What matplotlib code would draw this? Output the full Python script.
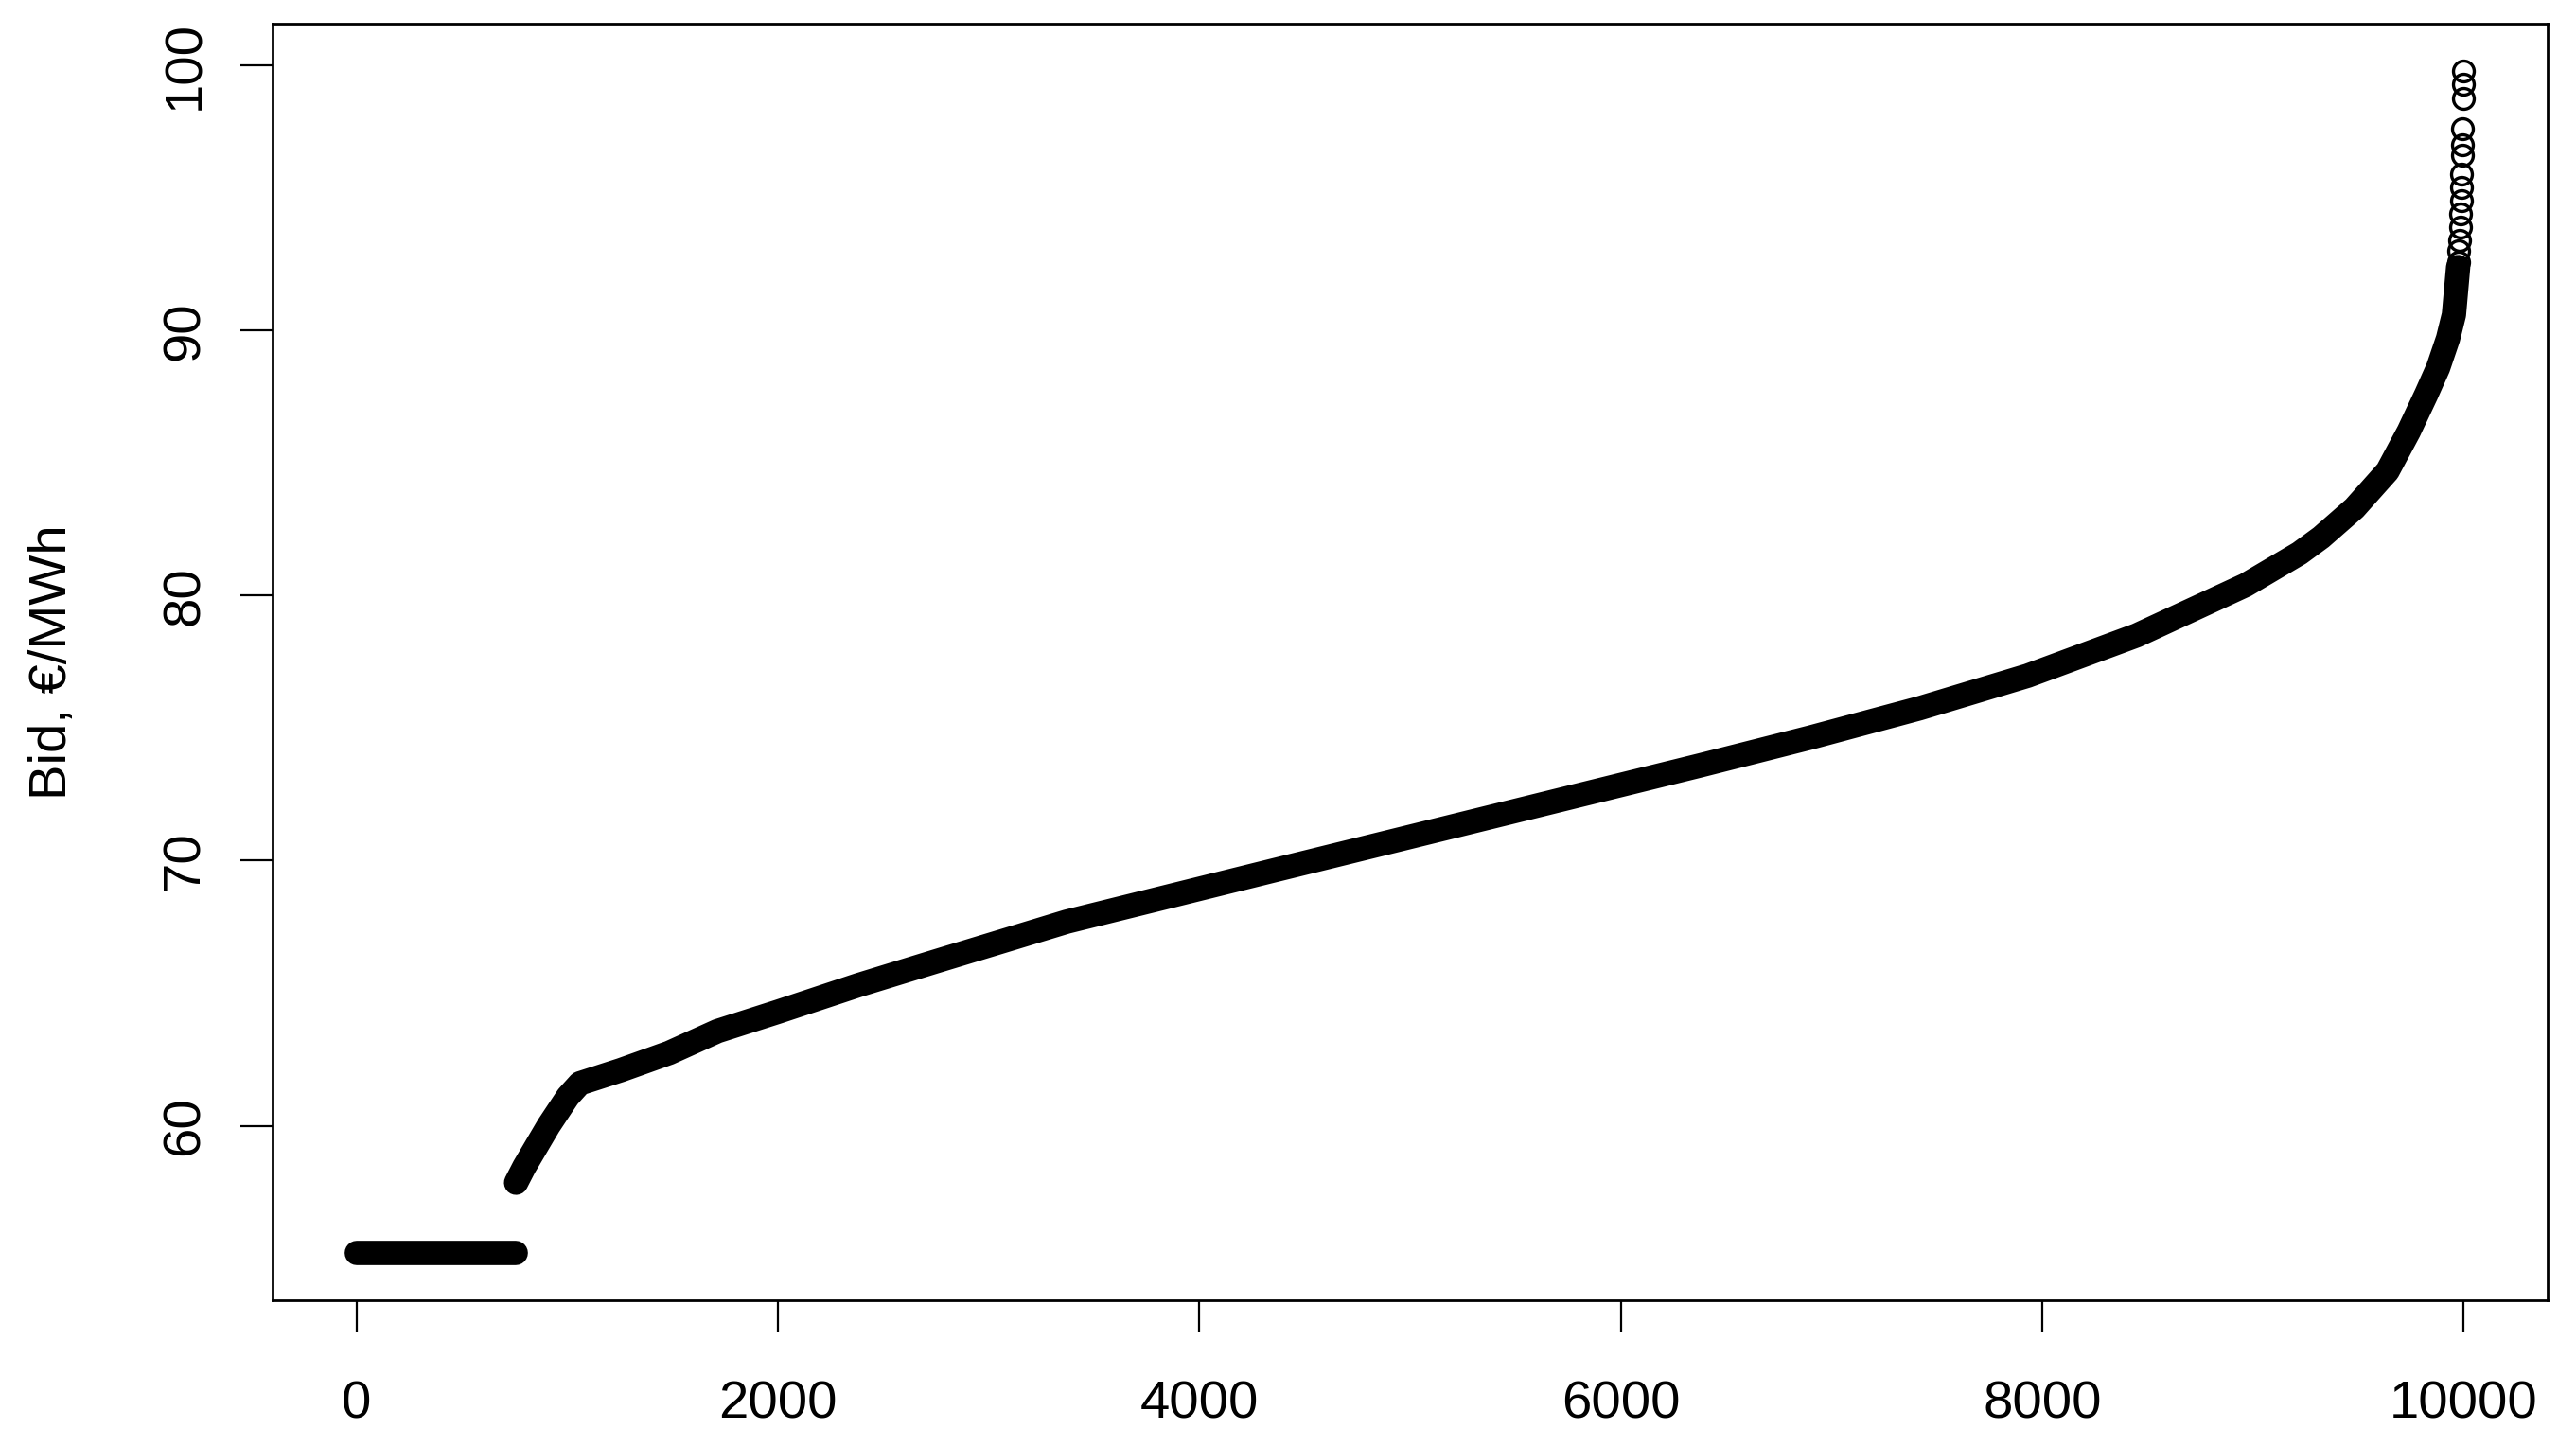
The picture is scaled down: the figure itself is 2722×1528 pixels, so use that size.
import numpy as np
import matplotlib
matplotlib.use("Agg")
import matplotlib.pyplot as plt

plt.rcParams['font.family'] = ['Liberation Sans', 'DejaVu Sans']

# sorted bids (rank -> bid, EUR/MWh)
flat_rank = [1, 755]
flat_bid = [55.2, 55.2]

curve_rank = [757, 796, 911, 1003, 1060, 1255, 1484, 1713, 2000, 2380, 2749,
              3371, 4336, 5435, 6380, 6902, 7418, 7932, 8449, 8966, 9222,
              9325, 9483, 9640, 9741, 9824, 9880, 9927, 9955, 9975]
curve_bid = [57.85, 58.45, 60.0, 61.1, 61.6, 62.1, 62.75, 63.57, 64.3, 65.3, 66.2,
             67.7, 69.6, 71.75, 73.6, 74.65, 75.75, 76.98, 78.5, 80.4, 81.6,
             82.2, 83.3, 84.7, 86.2, 87.6, 88.6, 89.7, 90.6, 92.4]

# the last few bids, where single circles can be seen
tail_rank = [9976, 9979, 9982, 9985, 9987, 9989, 9991, 9993, 9995, 9996,
             9997, 9998, 9999, 10000]
tail_bid = [92.6, 93.0, 93.4, 93.9, 94.4, 94.9, 95.4, 95.9, 96.6, 97.0,
            97.6, 98.75, 99.3, 99.8]

x_ticks = [0, 2000, 4000, 6000, 8000, 10000]
y_ticks = [60, 70, 80, 90, 100]
y_title = "Bid, €/MWh"

fig = plt.figure(figsize=(27.22, 15.28), dpi=100)
ax = fig.add_axes([0.1058, 0.1008, 0.8832, 0.8829])

band = dict(color='black', lw=18.5, solid_capstyle='round', solid_joinstyle='round')
ax.plot(flat_rank, flat_bid, **band)
ax.plot(curve_rank, curve_bid, **band)
ax.plot(tail_rank, tail_bid, ls='none', marker='o', ms=15.8, mfc='none',
        mec='black', mew=2.4)

# R style limits: data range plus 4 % each side
n = max(tail_rank)
all_bid = flat_bid + curve_bid + tail_bid
lo, hi = min(all_bid), max(all_bid)
ax.set_xlim(1 - 0.04 * (n - 1), n + 0.04 * (n - 1))
ax.set_ylim(lo - 0.04 * (hi - lo), hi + 0.04 * (hi - lo))

ax.set_xticks(x_ticks)
ax.set_yticks(y_ticks)
ax.tick_params(length=24.5, width=1.6, labelsize=40.5, colors='black')
ax.tick_params(axis='x', pad=36)
ax.tick_params(axis='y', pad=23, labelrotation=90)
for lab in ax.get_yticklabels():
    lab.set_va('center')

for sp in ax.spines.values():
    sp.set_linewidth(2.0)
    sp.set_color('black')

ax.set_ylabel(y_title, fontsize=40.5)
ax.yaxis.set_label_coords(-0.0857, 0.5)

fig.savefig("out.png", dpi=100)
